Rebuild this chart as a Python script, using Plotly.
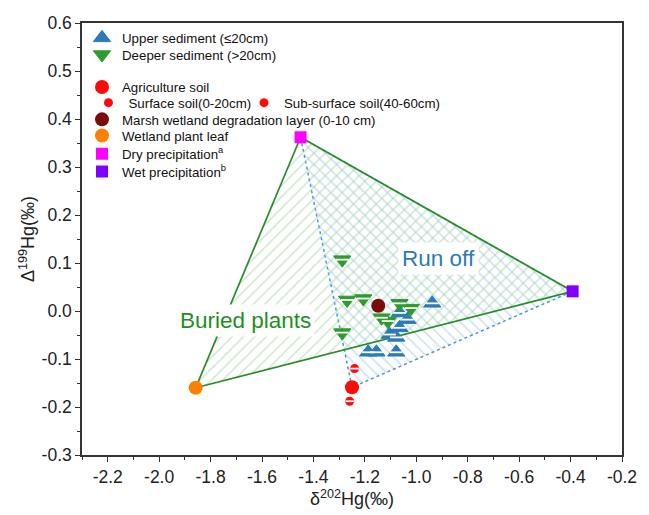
import plotly.graph_objects as go

# ---------------- data ----------------
upper_x = [-0.938, -1.065, -1.034, -1.065, -1.104, -1.078, -1.187, -1.155, -1.078]
upper_y = [0.016, -0.004, -0.018, -0.035, -0.049, -0.055, -0.086, -0.086, -0.086]

deeper_x = [-1.288, -1.269, -1.206, -1.288, -1.065, -1.021, -1.135, -1.110]
deeper_y = [0.107, 0.023, 0.026, -0.045, 0.016, 0.006, -0.014, -0.021]

agri_x = [-1.250]
agri_y = [-0.159]
surface_x = [-1.240]
surface_y = [-0.120]
subsurface_x = [-1.259]
subsurface_y = [-0.188]
marsh_x = [-1.148]
marsh_y = [0.011]
leaf_x = [-1.858]
leaf_y = [-0.160]
dry_x = [-1.450]
dry_y = [0.362]
wet_x = [-0.392]
wet_y = [0.041]

x_tickvals = [-2.2, -2.0, -1.8, -1.6, -1.4, -1.2, -1.0, -0.8, -0.6, -0.4, -0.2]
x_ticktext = ["-2.2", "-2.0", "-1.8", "-1.6", "-1.4", "-1.2", "-1.0", "-0.8", "-0.6", "-0.4", "-0.2"]
y_tickvals = [-0.3, -0.2, -0.1, 0.0, 0.1, 0.2, 0.3, 0.4, 0.5, 0.6]
y_ticktext = ["-0.3", "-0.2", "-0.1", "0.0", "0.1", "0.2", "0.3", "0.4", "0.5", "0.6"]

# ---------------- styles ----------------
FONT = "Liberation Sans, Arial, sans-serif"
BLUE = "#2c7bb6"
GREEN = "#2e9b2e"
LINE_GREEN = "#2a8c2a"
RED = "#ff0a0a"

W, H = 649, 515
ML, MR, MT, MB = 82, 18, 23, 52
PH = H - MT - MB


def ypaper(py):
    return 1 - (py - MT) / PH


fig = go.Figure()

# Run off polygon (blue hatch, dotted)
fig.add_trace(go.Scatter(
    x=[dry_x[0], agri_x[0], wet_x[0], dry_x[0]],
    y=[dry_y[0], agri_y[0], wet_y[0], dry_y[0]],
    mode="lines", fill="toself", fillcolor="rgba(0,0,0,0)",
    fillpattern=dict(shape="\\", fgcolor="#98c5e6", bgcolor="rgba(0,0,0,0)", size=8, solidity=0.2),
    line=dict(color="#4a97d4", width=1.5, dash="dot"),
    showlegend=False, hoverinfo="skip"))

# Buried plants polygon (green hatch, solid)
fig.add_trace(go.Scatter(
    x=[dry_x[0], leaf_x[0], wet_x[0], dry_x[0]],
    y=[dry_y[0], leaf_y[0], wet_y[0], dry_y[0]],
    mode="lines", fill="toself", fillcolor="rgba(0,0,0,0)",
    fillpattern=dict(shape="/", fgcolor="#9fd597", bgcolor="rgba(0,0,0,0)", size=8, solidity=0.2),
    line=dict(color=LINE_GREEN, width=1.7),
    showlegend=False, hoverinfo="skip"))


def bar_overlay(xs, ys, size):
    fig.add_trace(go.Scatter(x=xs, y=ys, mode="markers",
                             marker=dict(symbol="line-ew", size=size, line=dict(color="white", width=1.8)),
                             showlegend=False, hoverinfo="skip"))


# Points
fig.add_trace(go.Scatter(x=upper_x, y=upper_y, mode="markers", name="Upper sediment (≤20cm)",
                         marker=dict(symbol="triangle-up", size=15, color=BLUE, line=dict(color=BLUE, width=1)),
                         legend="legend"))
bar_overlay(upper_x, upper_y, 9)
fig.add_trace(go.Scatter(x=deeper_x, y=deeper_y, mode="markers", name="Deeper sediment (>20cm)",
                         marker=dict(symbol="triangle-down", size=15, color=GREEN, line=dict(color=GREEN, width=1)),
                         legend="legend2"))
bar_overlay(deeper_x, deeper_y, 9)
fig.add_trace(go.Scatter(x=agri_x, y=agri_y, mode="markers", name="Agriculture soil",
                         marker=dict(symbol="circle", size=14, color=RED), legend="legend3"))
fig.add_trace(go.Scatter(x=surface_x, y=surface_y, mode="markers", name="Surface soil(0-20cm)",
                         marker=dict(symbol="circle", size=9, color=RED), legend="legend4"))
bar_overlay(surface_x, surface_y, 6)
fig.add_trace(go.Scatter(x=subsurface_x, y=subsurface_y, mode="markers", name="Sub-surface soil(40-60cm)",
                         marker=dict(symbol="circle", size=9, color=RED), legend="legend5"))
bar_overlay(subsurface_x, subsurface_y, 6)
fig.add_trace(go.Scatter(x=marsh_x, y=marsh_y, mode="markers", name="Marsh wetland degradation layer (0-10 cm)",
                         marker=dict(symbol="circle", size=14, color="#7a0c0c"), legend="legend6"))
fig.add_trace(go.Scatter(x=leaf_x, y=leaf_y, mode="markers", name="Wetland plant leaf",
                         marker=dict(symbol="circle", size=14, color="#ff8000"), legend="legend7"))
fig.add_trace(go.Scatter(x=dry_x, y=dry_y, mode="markers", name="Dry precipitation<sup>a</sup>",
                         marker=dict(symbol="square", size=12, color="#ff00ff"), legend="legend8"))
fig.add_trace(go.Scatter(x=wet_x, y=wet_y, mode="markers", name="Wet precipitation<sup>b</sup>",
                         marker=dict(symbol="square", size=12, color="#8000ff"), legend="legend9"))

# Region labels
fig.add_annotation(x=-1.666, y=-0.02, text="Buried plants", showarrow=False,
                   font=dict(family=FONT, size=22.5, color="#1f8f1f"), bgcolor="white", borderpad=3)
fig.add_annotation(x=-0.915, y=0.109, text="Run off", showarrow=False,
                   font=dict(family=FONT, size=22.5, color=BLUE), bgcolor="white", borderpad=3)

legend_font = dict(family=FONT, size=13.3, color="#111")
rows = {
    "legend": (38.5, 0.0), "legend2": (55.5, 0.0), "legend3": (88.5, 0.0),
    "legend4": (104.5, 0.012), "legend5": (104.5, 0.3), "legend6": (121.5, 0.0),
    "legend7": (138, 0.0), "legend8": (156.5, 0.0), "legend9": (174.5, 0.0),
}
for key, (py, xp) in rows.items():
    fig.update_layout({key: dict(x=xp, xanchor="left", y=ypaper(py), yanchor="middle",
                                 bgcolor="rgba(0,0,0,0)", font=legend_font, borderwidth=0,
                                 itemclick=False)})

axis_common = dict(showline=True, linecolor="#333", linewidth=1.5, mirror=True,
                   ticks="outside", ticklen=5, tickwidth=1.3, tickcolor="#333",
                   showgrid=False, zeroline=False,
                   tickfont=dict(family=FONT, size=17.5, color="#222"))

fig.update_xaxes(range=[-2.3, -0.2], tickvals=x_tickvals, ticktext=x_ticktext,
                 minor=dict(dtick=0.1, tick0=-2.2, ticks="outside", ticklen=3, tickcolor="#333"),
                 title=dict(text="δ<sup>202</sup>Hg(‰)", font=dict(family=FONT, size=18, color="#222"), standoff=4),
                 **axis_common)
fig.update_yaxes(range=[-0.3, 0.6], tickvals=y_tickvals, ticktext=y_ticktext,
                 minor=dict(dtick=0.05, tick0=0, ticks="outside", ticklen=3, tickcolor="#333"),
                 title=dict(text="Δ<sup>199</sup>Hg(‰)", font=dict(family=FONT, size=18, color="#222"), standoff=2),
                 **axis_common)

fig.update_layout(width=W, height=H, margin=dict(l=ML, r=MR, t=MT, b=MB),
                  plot_bgcolor="white", paper_bgcolor="white", showlegend=True)

fig.write_html("out.html")
